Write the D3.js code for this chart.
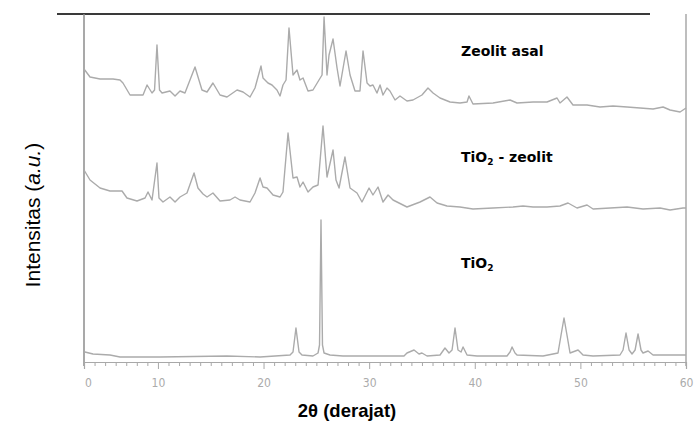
<!DOCTYPE html>
<html>
<head>
<meta charset="utf-8">
<script src="https://cdn.jsdelivr.net/npm/d3@7"></script>
<style>
  html, body { margin: 0; padding: 0; background: #fff; }
  svg { display: block; }
</style>
</head>
<body>
<svg id="chart" width="696" height="426"></svg>
<script>
// ---- Data (2θ in degrees, intensity in arbitrary units) ----
const seriesNames = ["Zeolit asal", "TiO2 - zeolit", "TiO2"];
const seriesOffsets = [245, 145, 0];

const zeolitTheta = [3.00,3.57,4.52,5.75,6.41,6.69,7.36,8.59,8.97,9.44,9.68,9.91,10.15,10.39,11.14,11.62,12.09,12.56,13.51,14.17,14.65,15.21,15.88,16.54,17.49,18.06,18.72,19.19,19.76,19.95,20.42,20.80,21.27,21.56,21.84,22.13,22.41,22.79,23.17,23.45,23.74,24.21,24.68,25.25,25.54,25.73,26.01,26.20,26.58,26.96,27.24,27.81,28.19,28.66,29.13,29.42,29.80,30.08,30.36,30.74,31.03,31.31,31.69,31.97,32.45,32.92,33.58,34.15,35.00,35.57,36.05,36.71,37.66,38.60,39.27,39.45,39.83,41.73,43.34,44.00,45.52,46.84,47.79,48.07,48.73,49.30,50.63,51.86,53.09,54.42,55.65,56.88,57.83,58.49,59.44,60.00];
const zeolitValues = [48,40,38,38,37,34,22,22,32,24,27,72,27,24,26,21,26,24,50,27,25,34,22,20,27,25,20,29,51,39,34,32,27,21,32,37,89,42,47,37,39,26,27,37,42,100,42,62,78,49,31,66,42,26,26,66,34,31,32,24,32,22,29,26,17,21,16,17,22,29,24,19,15,14,15,21,13,14,17,14,15,15,19,14,20,12,12,10,11,10,9,8,10,7,5,9];

const tzTheta = [3.00,3.57,4.52,5.46,6.60,7.07,8.02,8.78,9.06,9.44,9.91,10.10,10.48,11.14,11.62,12.09,12.75,13.42,13.79,14.27,14.65,15.21,15.88,16.82,17.30,17.77,18.72,19.19,19.67,19.95,20.33,20.90,21.56,21.84,22.32,22.79,23.17,23.45,23.74,24.21,24.68,25.16,25.63,26.01,26.58,26.86,27.15,27.71,28.19,28.85,29.32,29.99,30.36,30.84,31.31,31.79,32.26,32.64,33.58,34.82,35.76,36.43,37.37,38.60,39.83,41.73,43.62,44.57,45.52,46.84,48.07,48.83,49.68,50.63,51.20,52.81,54.42,55.93,57.54,58.49,59.72,60.00];
const tzValues = [47,37,29,26,26,19,16,19,25,17,54,19,15,20,15,20,24,44,29,23,20,24,16,17,20,17,15,24,39,30,29,22,20,25,84,39,40,30,35,25,30,32,91,40,67,37,29,60,29,24,15,29,22,30,15,22,17,15,10,15,20,14,11,10,8,9,10,11,10,10,11,14,9,12,8,9,10,8,9,7,9,9];

const tioTheta = [3.09,3.85,5.46,6.41,10.20,16.54,19.67,22.51,22.79,23.07,23.36,23.64,24.68,25.16,25.30,25.44,25.58,25.73,26.29,27.52,33.30,33.58,34.25,34.72,35.00,35.48,36.71,37.18,37.56,37.85,38.13,38.41,38.70,38.89,39.27,40.21,43.05,43.34,43.53,43.81,44.00,46.46,47.88,48.17,48.45,48.73,49.02,49.78,50.25,51.20,53.75,54.04,54.32,54.61,54.89,55.18,55.46,55.74,55.93,56.41,56.88,60.00];
const tioValues = [10,8,7,5,5,6,5,7,10,34,10,7,6,9,17,142,17,9,7,6,6,9,12,8,9,6,7,14,9,12,34,12,10,15,7,6,6,10,15,9,7,6,9,27,44,27,9,12,7,6,7,12,29,12,8,12,28,12,9,11,7,7];

const xTickValues = [3, 10, 20, 30, 40, 50, 60];
const xTickLabels = ["0", "10", "20", "30", "40", "50", "60"];

// ---- Setup ----
const svg = d3.select("#chart");
const x = d3.scaleLinear().domain([3, 60]).range([84, 686]);
const y = d3.scaleLinear().domain([0, 350]).range([362, 12]);

const series = [
  { theta: zeolitTheta, values: zeolitValues, offset: seriesOffsets[0] },
  { theta: tzTheta, values: tzValues, offset: seriesOffsets[1] },
  { theta: tioTheta, values: tioValues, offset: seriesOffsets[2] }
];

// frame lines
svg.append("line").attr("x1", 57).attr("x2", 650).attr("y1", 14).attr("y2", 14)
  .attr("stroke", "#3a3a3a").attr("stroke-width", 2);
svg.append("line").attr("x1", x(3)).attr("x2", x(3)).attr("y1", 14).attr("y2", 366)
  .attr("stroke", "#8c8c8c").attr("stroke-width", 1.5);
svg.append("line").attr("x1", x(60)).attr("x2", x(60)).attr("y1", 14).attr("y2", 366)
  .attr("stroke", "#a8a8a8").attr("stroke-width", 1.5);

// traces
const line = d3.line().x(d => x(d[0])).y(d => y(d[1]));
series.forEach(s => {
  const pts = s.theta.map((t, i) => [t, s.values[i] + s.offset]);
  svg.append("path").datum(pts)
    .attr("d", line)
    .attr("fill", "none")
    .attr("stroke", "#ababab")
    .attr("stroke-width", 1.4)
    .attr("stroke-linejoin", "round");
});

// x axis
const minorTicks = d3.range(4, 60).filter(v => v % 10 !== 0);
const minorAxis = d3.axisBottom(x).tickValues(minorTicks).tickSize(4).tickFormat("");
svg.append("g").attr("transform", "translate(0,362)").call(minorAxis)
  .call(g => g.select(".domain").remove())
  .selectAll("line").attr("stroke", "#a8a8a8");

const majorAxis = d3.axisBottom(x).tickValues(xTickValues).tickSize(7).tickPadding(9)
  .tickFormat((d, i) => xTickLabels[i]);
const gx = svg.append("g").attr("transform", "translate(0,362)").call(majorAxis);
gx.select(".domain").attr("stroke", "#a8a8a8").attr("stroke-width", 1.2);
gx.selectAll(".tick line").attr("stroke", "#a8a8a8");
gx.selectAll(".tick text")
  .attr("fill", "#ababab")
  .style("font-family", "'Liberation Sans Narrow', 'DejaVu Sans Condensed', sans-serif")
  .style("font-size", "12px")
  .attr("dx", (d, i) => i === 0 ? 4 : 0);

// axis titles
svg.append("text")
  .attr("x", 347).attr("y", 417)
  .attr("text-anchor", "middle")
  .style("font-family", "'Liberation Sans', Arial, sans-serif")
  .style("font-weight", "bold")
  .style("font-size", "18.5px")
  .text("2θ (derajat)");

const yl = svg.append("text")
  .attr("transform", "translate(40,215) rotate(-90)")
  .attr("text-anchor", "middle")
  .style("font-family", "'Liberation Sans', Arial, sans-serif")
  .style("font-size", "21px");
yl.append("tspan").text("Intensitas (");
yl.append("tspan").style("font-style", "italic").text("a.u.");
yl.append("tspan").text(")");

// series labels
const labelFont = "'DejaVu Sans', sans-serif";
function addLabel(parts, xPos, yPos) {
  const t = svg.append("text").attr("x", xPos).attr("y", yPos)
    .style("font-family", labelFont).style("font-weight", "bold").style("font-size", "14px");
  parts.forEach(p => {
    const ts = t.append("tspan").text(p.t);
    if (p.sub) ts.attr("dy", 3).style("font-size", "9px");
    if (p.after) ts.attr("dy", -3);
  });
}
addLabel([{ t: "Zeolit asal" }], 461, 56);
addLabel([{ t: "TiO" }, { t: "2", sub: true }, { t: " - zeolit", after: true }], 461, 162);
addLabel([{ t: "TiO" }, { t: "2", sub: true }], 461, 268);
</script>
</body>
</html>
